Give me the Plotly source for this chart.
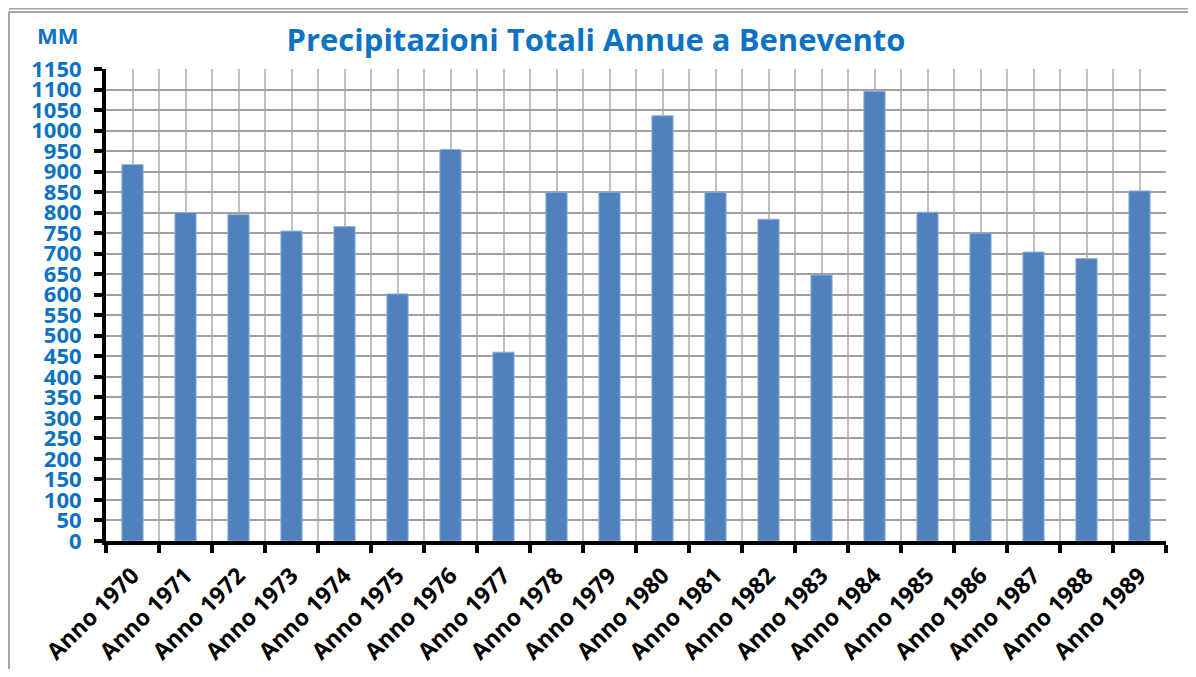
import plotly.graph_objects as go

years = ["Anno 1970", "Anno 1971", "Anno 1972", "Anno 1973", "Anno 1974", "Anno 1975",
         "Anno 1976", "Anno 1977", "Anno 1978", "Anno 1979", "Anno 1980", "Anno 1981",
         "Anno 1982", "Anno 1983", "Anno 1984", "Anno 1985", "Anno 1986", "Anno 1987",
         "Anno 1988", "Anno 1989"]
precip_mm = [917, 800, 795, 755, 766, 602, 954, 460, 850, 850, 1036, 850, 784, 648,
             1096, 801, 750, 704, 688, 853]
y_ticks = list(range(0, 1151, 50))

positions = list(range(len(years)))

BLUE = "#0B72C4"
FONT = "Open Sans"

fig = go.Figure()
fig.add_trace(go.Bar(
    x=positions, y=precip_mm, width=0.4,
    marker=dict(color="#4F81BD", line=dict(color="#8EB0DB", width=1)),
))

# page body has an 8px margin, so figure coords = screen coords - 8
OFF = 8
W, H = 1180, 661
L, T = 106 - OFF, 69 - OFF
R = W - (1166 - OFF)
B = H - (541 - OFF)
pw, ph = W - L - R, H - T - B

def px(x):
    return (x - OFF - L) / pw

def py(y):
    return (H - B - (y - OFF)) / ph

FRAME = dict(color="#A6A6A6", width=2)

fig.update_layout(
    width=W, height=H,
    margin=dict(l=L, r=R, t=T, b=B, autoexpand=False),
    paper_bgcolor="white", plot_bgcolor="white",
    showlegend=False,
    bargap=0.6,
    title=dict(text="<b>Precipitazioni Totali Annue a Benevento</b>",
               x=(596 - OFF) / W, xanchor="center", y=1 - (40 - OFF) / H, yanchor="middle",
               font=dict(family=FONT, size=31, color=BLUE)),
    xaxis=dict(
        range=[-0.5, len(years) - 0.5], automargin=False,
        tickmode="array", tickvals=positions, ticktext=years,
        tickangle=-45, ticks="", ticklabelstandoff=8,
        tickfont=dict(family=FONT, size=23, color="black", weight="bold"),
        showgrid=True, gridcolor="#C0C0C0", gridwidth=2,
        showline=True, linecolor="black", linewidth=4,
        minor=dict(tick0=-0.5, dtick=1, ticks="outside", ticklen=8, tickwidth=4,
                   tickcolor="black", showgrid=True, gridcolor="#C0C0C0", gridwidth=2),
        zeroline=False,
    ),
    yaxis=dict(
        range=[0, 1150], automargin=False,
        tickmode="array", tickvals=y_ticks, ticktext=[str(v) for v in y_ticks],
        ticks="outside", ticklen=8, tickwidth=4, tickcolor="black", ticklabelstandoff=8,
        tickfont=dict(family=FONT, size=22, color=BLUE, weight="bold"),
        showgrid=True, gridcolor="#A0A0A0", gridwidth=2,
        showline=True, linecolor="black", linewidth=4,
        zeroline=False,
    ),
    annotations=[dict(text="<b>MM</b>", x=px(58), y=py(35), xref="paper", yref="paper",
                      xanchor="center", yanchor="middle", showarrow=False,
                      font=dict(family=FONT, size=22, color=BLUE))],
    shapes=[
        # main frame: top and left edges (right/bottom fall outside the view)
        dict(type="line", xref="paper", yref="paper",
             x0=px(9), x1=px(1188), y0=py(12), y1=py(12), line=FRAME),
        dict(type="line", xref="paper", yref="paper",
             x0=px(9), x1=px(9), y0=py(12), y1=py(669), line=FRAME),
        # bottom edge of the box above
        dict(type="line", xref="paper", yref="paper",
             x0=px(9), x1=px(1188), y0=py(8.5), y1=py(8.5), line=FRAME),
    ],
)

fig.write_html("out.html")
